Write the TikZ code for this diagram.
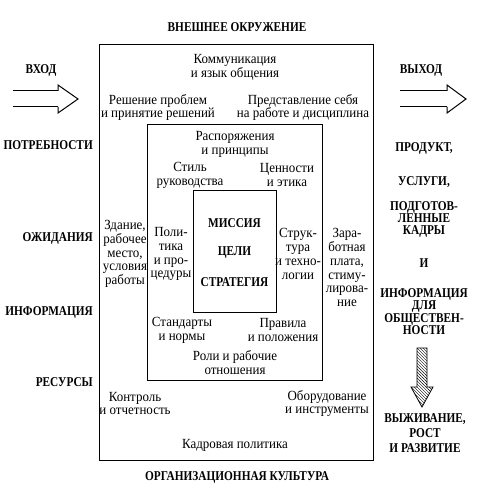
\documentclass[tikz,border=0pt]{standalone}
\usepackage{fontspec}
\setmainfont{Liberation Serif}
\newfontfamily\bodyf[FakeStretch=0.93]{Liberation Serif}
\newfontfamily\capf[FakeStretch=0.84]{Liberation Serif}
\usetikzlibrary{patterns}
\begin{document}
\begin{tikzpicture}[x=1bp,y=-1bp,
  txt/.style={align=center,inner sep=0pt,font=\bodyf\fontsize{14}{14}\selectfont},
  capl/.style={align=center,inner sep=0pt,font=\capf\bfseries\fontsize{13.5}{12.5}\selectfont},
  frame/.style={draw,line width=1bp,inner sep=0pt},
  bigarrow/.style={line width=1bp,line join=miter}]
\useasboundingbox (0,0) rectangle (477,493);
% boxes
\node[frame,minimum width=274bp,minimum height=415bp] (outer) at (236,252.5) {};
\node[frame,minimum width=175bp,minimum height=255bp] (middle) at (234.5,252.5) {};
\node[frame,minimum width=83bp,minimum height=121bp] (inner) at (234.5,251.5) {};
% titles
\node[capl] (env) at (237,27) {ВНЕШНЕЕ ОКРУЖЕНИЕ};
\node[capl] (org) at (237,477) {ОРГАНИЗАЦИОННАЯ КУЛЬТУРА};
\node[capl] (vhod) at (41,70) {ВХОД};
\node[capl] (vyhod) at (421,70) {ВЫХОД};
% arrows
\draw[bigarrow] (13,91) -- (58,91) (13,107) -- (58,107);
\draw[bigarrow] (58,91) -- (58,85) -- (78,99) -- (58,113) -- (58,107);
\draw[bigarrow] (400,91) -- (447,91) (400,107) -- (447,107);
\draw[bigarrow] (447,91) -- (447,85) -- (466,99) -- (447,113) -- (447,107);
% left labels
\node[capl,anchor=east] (potr) at (93,145) {ПОТРЕБНОСТИ};
\node[capl,anchor=east] (ozh) at (93,238) {ОЖИДАНИЯ};
\node[capl,anchor=east] (inf) at (93,312) {ИНФОРМАЦИЯ};
\node[capl,anchor=east] (res) at (93,382) {РЕСУРСЫ};
% outer ring
\node[txt] (komm) at (235,67) {Коммуникация\\и язык общения};
\node[txt] (resh) at (158,107.5) {Решение проблем\\и принятие решений};
\node[txt] (pred) at (303,107.5) {Представление себя\\на работе и дисциплина};
\node[txt,font=\bodyf\fontsize{14}{13.7}\selectfont] (zdan) at (125,254) {Здание,\\рабочее\\место,\\условия\\работы};
\node[txt] (zarp) at (347,267.5) {Зара-\\ботная\\плата,\\стиму-\\лирова-\\ние};
\node[txt] (kontr) at (135,403.5) {Контроль\\и отчетность};
\node[txt] (obor) at (327,403.5) {Оборудование\\и инструменты};
\node[txt] (kadr) at (235,445) {Кадровая политика};
% middle ring
\node[txt] (rasp) at (235,144) {Распоряжения\\и принципы};
\node[txt] (stil) at (190,175) {Стиль\\руководства};
\node[txt] (cenn) at (287,175) {Ценности\\и этика};
\node[txt] (polit) at (171,254) {Поли-\\тика\\и про-\\цедуры};
\node[txt] (strukt) at (298,254) {Струк-\\тура\\и техно-\\логии};
\node[txt] (stand) at (182,330) {Стандарты\\и нормы};
\node[txt] (prav) at (283,330) {Правила\\и положения};
\node[txt] (roli) at (235,362.5) {Роли и рабочие\\отношения};
% core
\node[capl] (miss) at (234.5,223) {МИССИЯ};
\node[capl] (celi) at (234.5,253) {ЦЕЛИ};
\node[capl] (strat) at (234.5,282) {СТРАТЕГИЯ};
% outputs
\node[capl] (prod) at (424,148) {ПРОДУКТ,};
\node[capl] (usl) at (424,182) {УСЛУГИ,};
\node[capl] (podg) at (424,219.5) {ПОДГОТОВ-\\ЛЕННЫЕ\\КАДРЫ};
\node[capl] (ii) at (424,263) {И};
\node[capl] (infob) at (424,311.5) {ИНФОРМАЦИЯ\\ДЛЯ\\ОБЩЕСТВЕН-\\НОСТИ};
\draw[line width=0.8bp,pattern=north west lines] (417,348) -- (427,348) -- (427,387) -- (433,387) -- (422,407) -- (411,387) -- (417,387) -- cycle;
\node[capl,font=\capf\bfseries\fontsize{13.5}{15}\selectfont] (vyzh) at (425,433) {ВЫЖИВАНИЕ,\\РОСТ\\И РАЗВИТИЕ};
\end{tikzpicture}
\end{document}
